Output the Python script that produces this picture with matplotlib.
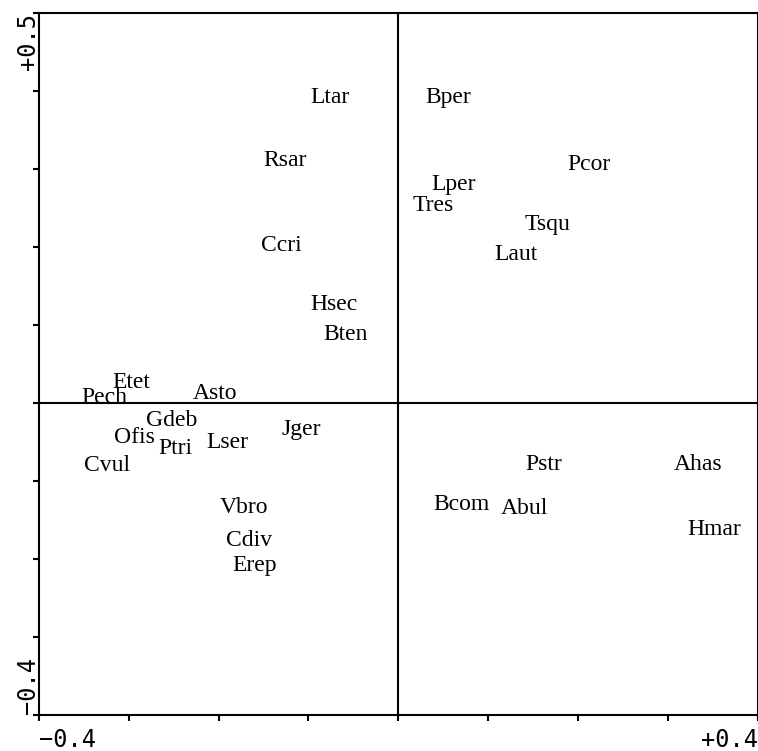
import matplotlib
matplotlib.use("Agg")
import matplotlib.pyplot as plt
from matplotlib.transforms import offset_copy

labels = ["Ltar", "Bper", "Rsar", "Pcor", "Lper", "Tres", "Tsqu", "Laut", "Ccri",
          "Hsec", "Bten", "Etet", "Pech", "Asto", "Gdeb", "Jger", "Ofis", "Ptri",
          "Lser", "Cvul", "Pstr", "Ahas", "Bcom", "Abul", "Hmar", "Vbro", "Cdiv", "Erep"]
xs = [-0.0756, 0.0556, -0.1256, 0.2122, 0.0611, 0.0389, 0.1667, 0.1311, -0.130,
      -0.0711, -0.0589, -0.2967, -0.3267, -0.2044, -0.2522, -0.1078, -0.2933, -0.2478,
      -0.190, -0.3244, 0.1622, 0.3333, 0.070, 0.140, 0.3522, -0.1722, -0.1656, -0.160]
ys = [0.395, 0.395, 0.314, 0.309, 0.283, 0.256, 0.232, 0.193, 0.205,
      0.129, 0.0905, 0.0289, 0.0096, 0.0148, -0.0199, -0.0315, -0.0417, -0.0558,
      -0.0481, -0.0777, -0.0763, -0.0763, -0.1277, -0.1329, -0.1598, -0.1316, -0.174, -0.2055]

xlim = (-0.4, 0.4)
ylim = (-0.4, 0.5)
xticks = [-0.4, -0.3, -0.2, -0.1, 0.0, 0.1, 0.2, 0.3, 0.4]
yticks = [-0.4, -0.3, -0.2, -0.1, 0.0, 0.1, 0.2, 0.3, 0.4, 0.5]
xticklabels = ["\u22120.4", "", "", "", "", "", "", "", "+0.4"]
yticklabels = ["\u22120.4", "", "", "", "", "", "", "", "", "+0.5"]

W, H = 758, 751
fig = plt.figure(figsize=(W / 100, H / 100), dpi=100)
ax = fig.add_axes([39 / W, 1 - 714.5 / H, (757.5 - 39) / W, (714.5 - 13) / H])
ax.set_xlim(*xlim)
ax.set_ylim(*ylim)

ax.axhline(0, color="black", lw=1.5, zorder=1)
ax.axvline(0, color="black", lw=1.5, zorder=1)

trans = offset_copy(ax.transData, fig=fig, x=0, y=-2.5, units="dots")
for lab, x, y in zip(labels, xs, ys):
    ax.text(x, y, lab, ha="center", va="center", fontsize=17,
            family="Liberation Serif", color="black", zorder=3, transform=trans)

for s in ax.spines.values():
    s.set_linewidth(1.5)
    s.set_color("black")

ax.set_xticks(xticks)
ax.set_yticks(yticks)
ax.set_xticklabels(xticklabels, family="DejaVu Sans Mono", fontsize=17)
ax.set_yticklabels(yticklabels, family="DejaVu Sans Mono", fontsize=17, rotation=90)
ax.tick_params(axis="x", direction="out", length=4, width=1.5, pad=6)
ax.tick_params(axis="y", direction="out", length=4, width=1.5, pad=-5)
xt = ax.get_xticklabels()
xt[0].set_ha("left")
xt[-1].set_ha("right")
yt = ax.get_yticklabels()
yt[0].set_va("bottom")
yt[-1].set_va("top")

fig.savefig("out.png", dpi=100)
